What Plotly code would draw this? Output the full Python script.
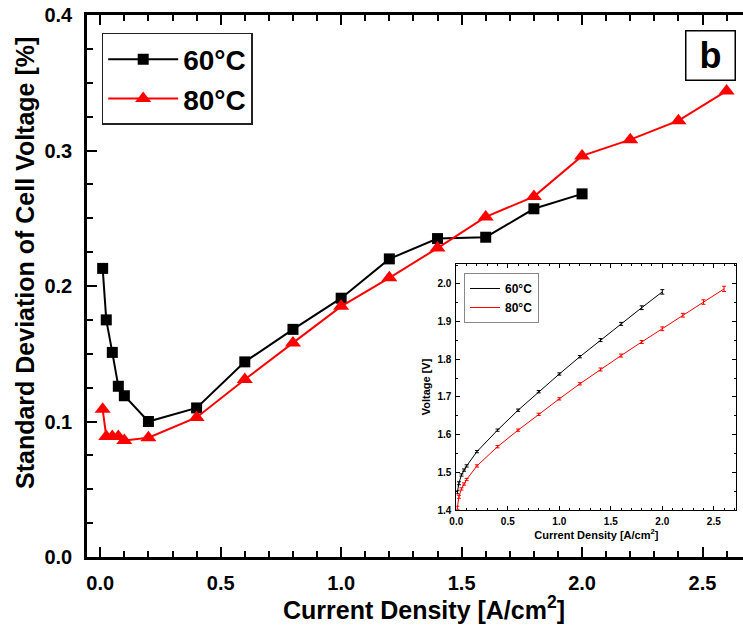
import plotly.graph_objects as go

# ---------------- data ----------------
j_60 = [0.01, 0.025, 0.05, 0.075, 0.1, 0.2, 0.4, 0.6, 0.8, 1.0, 1.2, 1.4, 1.6, 1.8, 2.0]
sd_60 = [0.213, 0.175, 0.151, 0.126, 0.119, 0.100, 0.110, 0.144, 0.168, 0.191, 0.220, 0.235, 0.236, 0.257, 0.268]

j_80 = [0.01, 0.025, 0.05, 0.075, 0.1, 0.2, 0.4, 0.6, 0.8, 1.0, 1.2, 1.4, 1.6, 1.8, 2.0, 2.2, 2.4, 2.6]
sd_80 = [0.109, 0.089, 0.089, 0.089, 0.086, 0.088, 0.103, 0.131, 0.158, 0.185, 0.206, 0.228, 0.251, 0.266, 0.296, 0.308, 0.322, 0.344]

v_60 = [1.447, 1.471, 1.493, 1.506, 1.517, 1.555, 1.612, 1.665, 1.714, 1.761, 1.807, 1.851, 1.894, 1.937, 1.979]
err_60 = [0.004, 0.004, 0.003, 0.003, 0.003, 0.003, 0.003, 0.003, 0.003, 0.003, 0.003, 0.004, 0.004, 0.005, 0.006]
v_80 = [1.406, 1.435, 1.456, 1.469, 1.481, 1.517, 1.568, 1.612, 1.654, 1.695, 1.735, 1.773, 1.810, 1.846, 1.881, 1.917, 1.952, 1.987]
err_80 = [0.004, 0.004, 0.003, 0.003, 0.003, 0.003, 0.003, 0.003, 0.003, 0.003, 0.003, 0.004, 0.004, 0.004, 0.005, 0.005, 0.006, 0.007]

names = ["60°C", "80°C"]
colors = ["#000000", "#ff0000"]
main_xticks = [0, 0.5, 1.0, 1.5, 2.0, 2.5]
main_yticks = [0, 0.1, 0.2, 0.3, 0.4]
inset_yticks = [1.4, 1.5, 1.6, 1.7, 1.8, 1.9, 2.0]

FONT = "Liberation Sans, Arial, sans-serif"

fig = go.Figure()

# main traces
fig.add_trace(go.Scatter(x=j_60, y=sd_60, mode="lines+markers", name=names[0],
                         line=dict(color=colors[0], width=2),
                         marker=dict(symbol="square", size=11, color=colors[0]),
                         xaxis="x", yaxis="y", legend="legend"))
fig.add_trace(go.Scatter(x=j_80, y=sd_80, mode="lines+markers", name=names[1],
                         line=dict(color=colors[1], width=2),
                         marker=dict(symbol="triangle-up", size=14, color=colors[1]),
                         xaxis="x", yaxis="y", legend="legend"))

# inset traces
fig.add_trace(go.Scatter(x=j_60, y=v_60, mode="lines", name=names[0],
                         line=dict(color=colors[0], width=1),
                         error_y=dict(type="data", array=err_60, color=colors[0], thickness=1, width=2),
                         xaxis="x2", yaxis="y2", legend="legend2"))
fig.add_trace(go.Scatter(x=j_80, y=v_80, mode="lines", name=names[1],
                         line=dict(color=colors[1], width=1),
                         error_y=dict(type="data", array=err_80, color=colors[1], thickness=1, width=2),
                         xaxis="x2", yaxis="y2", legend="legend2"))

bold = dict(family=FONT, color="black", weight="bold")

fig.update_layout(
    width=743, height=626,
    margin=dict(l=87, r=0, t=15, b=69, autoexpand=False),
    paper_bgcolor="white", plot_bgcolor="white",
    font=dict(family=FONT, color="black"),
    xaxis=dict(
        range=[-0.055, 2.668], domain=[0, 1],
        tickmode="array", tickvals=main_xticks,
        ticktext=[f"{v:.1f}" for v in main_xticks],
        ticks="inside", ticklen=10, tickwidth=2, tickcolor="black",
        minor=dict(dtick=0.1, tick0=0, ticks="inside", ticklen=6, tickwidth=2, tickcolor="black", showgrid=False),
        showline=True, linewidth=2.5, linecolor="black", mirror="ticks",
        showgrid=False, zeroline=False,
        tickfont=dict(size=20, **bold), ticklabelstandoff=6,
    ),
    yaxis=dict(
        range=[0, 0.4], domain=[0, 1],
        tickmode="array", tickvals=main_yticks,
        ticktext=[f"{v:.1f}" for v in main_yticks],
        ticks="inside", ticklen=10, tickwidth=2, tickcolor="black",
        minor=dict(dtick=0.025, tick0=0, ticks="inside", ticklen=6, tickwidth=2, tickcolor="black", showgrid=False),
        showline=True, linewidth=2.5, linecolor="black",
        showgrid=False, zeroline=False,
        tickfont=dict(size=20, **bold), ticklabelstandoff=8,
    ),
    yaxis3=dict(
        range=[0, 0.4], overlaying="y", side="right", anchor="x",
        tickmode="array", tickvals=[0.1, 0.2, 0.3],
        ticks="inside", ticklen=3, tickwidth=2, tickcolor="black",
        showticklabels=False, showline=False, showgrid=False, zeroline=False,
    ),
    xaxis2=dict(
        range=[0, 2.72], domain=[0.563, 0.990], anchor="y2",
        tickmode="array", tickvals=main_xticks,
        ticktext=[f"{v:.1f}" for v in main_xticks],
        ticks="inside", ticklen=4, tickwidth=1, tickcolor="black",
        minor=dict(dtick=0.1, tick0=0, ticks="inside", ticklen=2, tickwidth=1, tickcolor="black", showgrid=False),
        showline=True, linewidth=1, linecolor="black", mirror="ticks",
        showgrid=False, zeroline=False,
        tickfont=dict(size=10, **bold), ticklabelstandoff=2,
        title=dict(text="Current Density [A/cm<sup>2</sup>]", font=dict(size=11, **bold), standoff=3),
    ),
    yaxis2=dict(
        range=[1.4, 2.053], domain=[0.0867, 0.5406], anchor="x2",
        tickmode="array", tickvals=inset_yticks,
        ticktext=[f"{v:.1f}" for v in inset_yticks],
        ticks="inside", ticklen=4, tickwidth=1, tickcolor="black",
        minor=dict(dtick=0.05, tick0=1.4, ticks="inside", ticklen=2, tickwidth=1, tickcolor="black", showgrid=False),
        showline=True, linewidth=1, linecolor="black", mirror="ticks",
        showgrid=False, zeroline=False,
        tickfont=dict(size=10, **bold), ticklabelstandoff=2,
        title=dict(text="Voltage [V]", font=dict(size=11, **bold), standoff=4),
    ),
    legend=dict(
        x=0.0224, y=0.9668, xanchor="left", yanchor="top",
        bgcolor="white", bordercolor="#222222", borderwidth=1.5,
        font=dict(size=28, **bold), tracegroupgap=0, itemwidth=70,
    ),
    legend2=dict(
        x=0.5747, y=0.524, xanchor="left", yanchor="top",
        bgcolor="white", bordercolor="#888888", borderwidth=1,
        font=dict(size=12, **bold), tracegroupgap=0,
    ),
    showlegend=True,
)

# axis titles (placed as in the reference)
fig.add_annotation(
    text="Standard Deviation of Cell Voltage [%]", xref="paper", yref="paper",
    x=-0.0945, y=0.5424, xanchor="center", yanchor="middle", textangle=-90,
    showarrow=False, font=dict(size=25, **bold),
)
fig.add_annotation(
    text="Current Density [A/cm<sup>2</sup>]", xref="paper", yref="paper",
    x=0.5137, y=-0.094, xanchor="center", yanchor="middle",
    showarrow=False, font=dict(size=25, **bold),
)

# panel label "b"
fig.add_annotation(
    text="b", xref="paper", yref="paper", x=0.951, y=0.9244,
    xanchor="center", yanchor="middle", showarrow=False,
    font=dict(size=36, **bold), bordercolor="black", borderwidth=1.5,
    bgcolor="white", width=46, height=46, borderpad=1,
)

fig.write_html("out.html",
               config={"displayModeBar": False},
               post_script="document.body.style.margin='0';document.body.style.overflow='hidden';")
